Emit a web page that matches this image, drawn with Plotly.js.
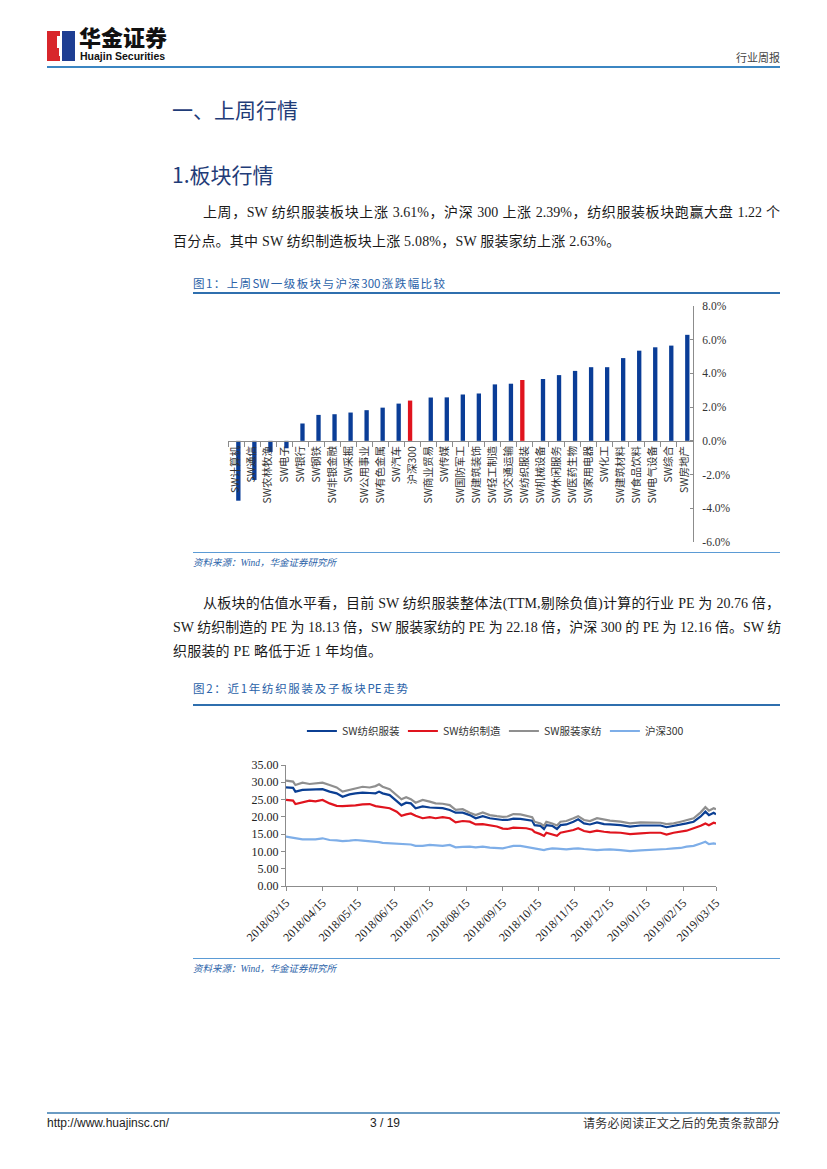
<!DOCTYPE html>
<html>
<head>
<meta charset="utf-8">
<script src="https://cdn.plot.ly/plotly-3.0.1.min.js"></script>
<style>
  html, body { margin:0; padding:0; background:#fff; }
  #page { position:relative; width:827px; height:1169px; overflow:hidden; background:#fff;
          font-family:"Liberation Serif","Noto Sans CJK SC",serif; color:#1a1a1a; }
  .abs { position:absolute; white-space:nowrap; }
  .line { position:absolute; }
  .just { text-align:justify; text-align-last:justify; white-space:nowrap; }
  .para { font-size:14px; line-height:18px; }
  .head { font-family:"Noto Sans CJK SC",sans-serif; font-size:21px; color:#1f3c78; line-height:26px; }
  .figt { font-family:"Noto Sans CJK SC",sans-serif; font-size:11.5px; color:#2a62a8; line-height:14px; }
  .src { font-family:"Liberation Serif","Noto Sans CJK SC",serif; font-style:italic; font-size:9.5px; color:#2a62a8; line-height:12px; }
</style>
</head>
<body>
<div id="page">
  <!-- logo -->
  <svg class="abs" style="left:46px;top:30px" width="32" height="33" viewBox="0 0 32 33">
    <rect x="1" y="1" width="13" height="30" fill="#d8262b"/>
    <rect x="16" y="1" width="13" height="30" fill="#1e3e92"/>
    <polygon points="11,6 14,6 14,13 16,13 16,26 13,26 13,18 11,18" fill="#fff"/>
  </svg>
  <div class="abs" style="left:79px;top:24px;font-family:'Noto Sans CJK SC',sans-serif;font-weight:900;font-size:22px;line-height:25px;color:#111;letter-spacing:0px">华金证券</div>
  <div class="abs" style="left:80px;top:50px;font-family:'Liberation Sans',Arial,sans-serif;font-weight:bold;font-size:10.5px;line-height:12px;color:#111">Huajin Securities</div>
  <div class="abs" style="left:736px;top:50px;font-family:'Noto Sans CJK SC',sans-serif;font-size:11px;line-height:14px;color:#444">行业周报</div>
  <div class="line" style="left:47px;top:66px;width:733px;height:2px;background:#3b86c2"></div>

  <!-- headings -->
  <div class="abs head" style="left:172px;top:96px">一、上周行情</div>
  <div class="abs head" style="left:172px;top:161px">1.板块行情</div>

  <!-- paragraph 1 -->
  <div class="line para just" style="left:203px;top:204px;width:577px">上周，SW 纺织服装板块上涨 3.61%，沪深 300 上涨 2.39%，纺织服装板块跑赢大盘 1.22 个</div>
  <div class="abs para" style="left:173px;top:233px;letter-spacing:0.2px">百分点。其中 SW 纺织制造板块上涨 5.08%，SW 服装家纺上涨 2.63%。</div>

  <!-- figure 1 -->
  <div class="line figt just" style="left:193px;top:276px;width:252px">图1：上周SW一级板块与沪深300涨跌幅比较</div>
  <div class="line" style="left:193px;top:292px;width:587px;height:1.5px;background:#2f6fae"></div>
  <div id="bar" class="abs" style="left:193px;top:295px;width:587px;height:258px"></div>
  <div class="line" style="left:193px;top:552px;width:587px;height:1px;background:#5b9bd5"></div>
  <div class="abs src" style="left:193px;top:557px">资料来源：Wind，华金证券研究所</div>

  <!-- paragraph 2 -->
  <div class="line para just" style="left:203px;top:595px;width:577px">从板块的估值水平看，目前 SW 纺织服装整体法(TTM,剔除负值)计算的行业 PE 为 20.76 倍，</div>
  <div class="line para just" style="left:173px;top:619px;width:607px">SW 纺织制造的 PE 为 18.13 倍，SW 服装家纺的 PE 为 22.18 倍，沪深 300 的 PE 为 12.16 倍。SW 纺</div>
  <div class="abs para" style="left:173px;top:643px;letter-spacing:0.2px">织服装的 PE 略低于近 1 年均值。</div>

  <!-- figure 2 -->
  <div class="line figt just" style="left:193px;top:681px;width:215px">图2：近1年纺织服装及子板块PE走势</div>
  <div class="line" style="left:193px;top:704px;width:587px;height:1.5px;background:#2f6fae"></div>
  <div id="line" class="abs" style="left:193px;top:708px;width:587px;height:250px"></div>
  <div class="line" style="left:193px;top:958px;width:587px;height:1px;background:#5b9bd5"></div>
  <div class="abs src" style="left:193px;top:963px">资料来源：Wind，华金证券研究所</div>

  <!-- footer -->
  <div class="line" style="left:47px;top:1112px;width:733px;height:2px;background:#6a9bc3"></div>
  <div class="abs" style="left:47px;top:1116px;font-family:'Liberation Sans',Arial,sans-serif;font-size:12px;line-height:14px;color:#222">http://www.huajinsc.cn/</div>
  <div class="abs" style="left:370px;top:1116px;font-family:'Liberation Sans',Arial,sans-serif;font-size:12px;line-height:14px;color:#222">3 / 19</div>
  <div class="abs" style="left:583px;top:1115px;font-family:'Noto Sans CJK SC',sans-serif;font-size:12px;line-height:15px;color:#333;letter-spacing:0.3px">请务必阅读正文之后的免责条款部分</div>
</div>

<script>
// ---------- Figure 1 data ----------
const sectors = ['SW计算机','SW通信','SW农林牧渔','SW电子','SW银行','SW钢铁','SW非银金融','SW采掘','SW公用事业','SW有色金属','SW汽车','沪深300','SW商业贸易','SW传媒','SW国防军工','SW建筑装饰','SW轻工制造','SW交通运输','SW纺织服装','SW机械设备','SW休闲服务','SW医药生物','SW家用电器','SW化工','SW建筑材料','SW食品饮料','SW电气设备','SW综合','SW房地产'];
const weeklyChange = [-3.55,-2.32,-0.66,-0.44,1.03,1.54,1.58,1.68,1.82,1.97,2.21,2.39,2.57,2.58,2.75,2.81,3.35,3.39,3.61,3.67,3.90,4.15,4.37,4.37,4.91,5.35,5.55,5.65,6.29];
const highlighted = ['沪深300','SW纺织服装'];
const yTicks1 = [-6,-4,-2,0,2,4,6,8];

// ---------- Figure 2 data ----------
const peDates = ['2018-03-15','2018-03-21','2018-03-23','2018-03-29','2018-04-04','2018-04-09','2018-04-15','2018-04-21','2018-04-27','2018-05-02','2018-05-08','2018-05-13','2018-05-19','2018-05-25','2018-05-30','2018-06-02','2018-06-05','2018-06-11','2018-06-17','2018-06-21','2018-06-25','2018-06-29','2018-07-03','2018-07-09','2018-07-15','2018-07-20','2018-07-26','2018-08-01','2018-08-06','2018-08-12','2018-08-18','2018-08-23','2018-08-29','2018-09-04','2018-09-10','2018-09-15',
'2018-09-19','2018-09-24','2018-09-30','2018-10-05','2018-10-10','2018-10-12','2018-10-17','2018-10-20','2018-10-22','2018-10-27','2018-10-31','2018-11-03','2018-11-08','2018-11-14','2018-11-18','2018-11-23','2018-11-28','2018-12-04','2018-12-10','2018-12-15','2018-12-24','2019-01-01','2019-01-10','2019-01-18','2019-01-27','2019-02-01','2019-02-07','2019-02-13','2019-02-18','2019-02-24','2019-03-02','2019-03-06','2019-03-09','2019-03-13','2019-03-15'];
const peTextile = [28.5,28.4,27.3,27.8,27.9,28.0,28.0,27.3,26.8,25.8,26.5,26.8,27.0,26.9,26.8,27.3,26.8,26.3,24.4,23.4,24.1,23.9,22.5,23.0,22.7,22.7,22.5,22.0,21.2,21.2,20.5,19.6,20.2,19.6,19.3,19.1,
19.1,19.5,19.4,19.1,18.9,17.6,17.4,16.5,17.6,17.4,16.5,17.6,17.8,18.6,19.3,18.1,17.8,18.4,17.9,17.8,17.6,17.2,17.5,17.5,17.5,17.0,17.4,17.6,18.1,18.6,20.1,21.5,20.5,21.2,20.76];
const peManufacture = [24.9,24.7,23.7,24.1,24.7,24.5,24.9,23.9,23.2,23.1,23.1,23.3,23.6,23.7,23.1,23.0,22.8,22.5,21.5,20.3,20.7,21.0,20.3,19.6,19.9,19.6,19.9,19.6,18.4,18.8,18.6,17.8,17.9,17.6,17.2,16.6,
16.5,16.9,16.9,16.7,16.3,15.6,15.0,14.5,15.4,15.0,14.5,15.4,15.7,16.2,16.7,15.9,15.6,16.0,15.7,15.5,15.4,15.0,15.2,15.4,15.4,14.9,15.4,15.7,16.0,16.7,17.4,18.1,17.6,18.3,18.13];
const peApparel = [30.5,30.2,29.2,29.9,29.5,29.7,29.9,29.2,28.5,27.3,27.8,28.3,28.7,28.5,28.9,29.4,28.7,28.0,26.3,25.1,25.7,25.1,24.1,24.9,24.4,23.9,23.8,23.4,22.0,22.2,21.2,20.5,21.3,20.5,20.2,20.0,
20.1,20.8,20.7,20.3,19.9,18.6,18.1,17.4,18.6,18.1,17.5,18.6,18.8,19.6,20.2,19.1,18.8,19.6,19.1,18.9,18.6,18.1,18.4,18.3,18.3,17.9,18.1,18.6,19.1,19.6,21.3,22.8,21.8,22.5,22.18];
const peCSI300 = [14.3,14.0,13.7,13.5,13.5,13.5,13.8,13.3,13.2,13.0,13.1,13.3,13.1,13.0,12.8,12.7,12.5,12.4,12.3,12.2,12.2,12.0,11.6,11.6,11.9,11.7,11.6,11.9,11.2,11.3,11.4,11.2,11.4,11.1,10.9,10.9,
11.2,11.6,11.6,11.3,11.0,10.9,10.7,10.4,10.6,10.9,10.8,10.7,10.6,10.8,10.9,10.7,10.5,10.4,10.5,10.6,10.4,10.1,10.3,10.4,10.6,10.7,10.9,11.0,11.4,11.6,12.3,12.8,12.1,12.3,12.16];
const seriesNames = ['SW纺织服装','SW纺织制造','SW服装家纺','沪深300'];
const monthTicks = ['2018-03-15','2018-04-15','2018-05-15','2018-06-15','2018-07-15','2018-08-15','2018-09-15','2018-10-15','2018-11-15','2018-12-15','2019-01-15','2019-02-15','2019-03-15'];
const yTicks2 = [0,5,10,15,20,25,30,35];

const CJK = '"Noto Sans CJK SC", sans-serif';
const NUM = '"Liberation Serif","Noto Sans CJK SC", serif';

// ---------- Figure 1 ----------
const blueY = weeklyChange.map((v,i)=> highlighted.includes(sectors[i]) ? null : v);
const redY  = weeklyChange.map((v,i)=> highlighted.includes(sectors[i]) ? v : null);
Plotly.newPlot('bar', [
  {type:'bar', x:sectors, y:blueY, marker:{color:'#0a3d97'}, width:0.27, offset:0.01, hoverinfo:'skip'},
  {type:'bar', x:sectors, y:redY,  marker:{color:'#e0141e'}, width:0.27, offset:-0.28, hoverinfo:'skip'}
], {
  width:587, height:258,
  margin:{l:35.4, r:86.7, t:10.5, b:11.3},
  paper_bgcolor:'#fff', plot_bgcolor:'#fff',
  showlegend:false,
  barmode:'overlay',
  xaxis:{type:'category', anchor:'free', position:6/14, showline:true, linecolor:'#8c8c8c', linewidth:1,
         ticks:'outside', tickson:'boundaries', ticklen:5, tickcolor:'#8c8c8c',
         tickangle:-90, tickfont:{family:CJK, size:10.5, color:'#333'},
         showgrid:false, zeroline:false, fixedrange:true},
  yaxis:{side:'right', range:[-6,8], tickmode:'array', tickvals:yTicks1,
         ticktext:yTicks1.map(v=>v.toFixed(1)+'%'),
         showline:true, linecolor:'#8c8c8c', ticks:'inside', ticklen:3, tickcolor:'#8c8c8c',
         ticklabelstandoff:6, tickfont:{family:NUM, size:11.5, color:'#333'},
         showgrid:false, zeroline:false, fixedrange:true}
}, {staticPlot:true, displayModeBar:false});

// ---------- Figure 2 ----------
const lineColors = ['#0b3f93','#e0141e','#8f8f8f','#7eaee8'];
const seriesVals = [peTextile, peManufacture, peApparel, peCSI300];
Plotly.newPlot('line', seriesVals.map((ys,i)=>({
  type:'scatter', mode:'lines', x:peDates, y:ys, name:seriesNames[i],
  line:{color:lineColors[i], width:2.2}, hoverinfo:'skip'
})), {
  width:587, height:250,
  margin:{l:93, r:64, t:57, b:72, autoexpand:false},
  paper_bgcolor:'#fff', plot_bgcolor:'#fff',
  showlegend:true,
  legend:{orientation:'h', x:0.037, xanchor:'left', y:1 + 34/121, yanchor:'middle',
          font:{family:CJK, size:10.5, color:'#333'}, itemwidth:30, tracegroupgap:0,
          entrywidth:56, entrywidthmode:'pixels'},
  xaxis:{type:'date', range:['2018-03-15','2019-03-15'], tickvals:monthTicks, tickformat:'%Y/%m/%d',
         tickangle:-45, ticks:'outside', ticklen:4, tickcolor:'#8c8c8c', showline:true, linecolor:'#8c8c8c',
         tickfont:{family:NUM, size:12, color:'#222'}, showgrid:false, zeroline:false, fixedrange:true},
  yaxis:{range:[0,35], tickvals:yTicks2, tickformat:'.2f', ticks:'outside', ticklen:4, tickcolor:'#8c8c8c',
         showline:true, linecolor:'#8c8c8c', tickfont:{family:NUM, size:12, color:'#222'},
         showgrid:false, zeroline:false, fixedrange:true}
}, {staticPlot:true, displayModeBar:false});
</script>
</body>
</html>
